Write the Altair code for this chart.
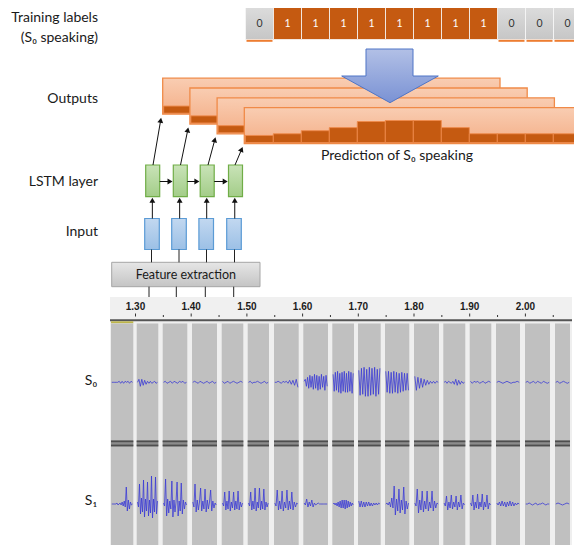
import math
import altair as alt
import pandas as pd

# ---------------- data ----------------
train_labels = [0, 1, 1, 1, 1, 1, 1, 1, 1, 0, 0, 0]
pred_probs = [0.21, 0.26, 0.35, 0.44, 0.62, 0.65, 0.65, 0.44, 0.26, 0.26, 0.26, 0.26]
tick_times = [1.30, 1.40, 1.50, 1.60, 1.70, 1.80, 1.90, 2.00]
tick_labels = ["1.30", "1.40", "1.50", "1.60", "1.70", "1.80", "1.90", "2.00"]
row_labels = ["Outputs", "LSTM layer", "Input"]
channel_labels = ["S\u2080", "S\u2081"]

# waveform samples per window (signed amplitude, px)
s0_wave = [
    [0, 0, 0, 0, 0, 1, -1, 1, -1, 1, 0, 1, -1, 1, 0],
    [0, 3, -4, 3, -3, 2, -2, 1, -1, 1, -1, 0, 1, -1, 0],
    [0, 1, -1, 0, 1, -1, 1, 0, -1, 1, 0, 1, -1, 0],
    [0, 1, 0, -1, 1, 0, -1, 0, 1, -1, 0, 1, -1, 0],
    [1, -1, 0, 1, -1, 0, 1, 0, -1, 0, 1, 0],
    [0, 1, -1, 0, 0, 1, 0, -1, 0, 1, -1, 0],
    [0, 0, 1, 0, -1, 1, 0, 1, -1, 2, -2, 2, -3, 3, -5],
    [1, 3, -4, 5, -6, 7, -5, 6, -7, 8, -6, 7, -8, 6, -7, 8, -5, 6, -8, 7, -4],
    [8, -9, 10, -8, 11, -10, 9, -11, 10, -9, 11, -10, 9, -10, 11, -9, 10, -11, 9],
    [12, -13, 14, -12, 15, -14, 13, -14, 15, -13, 14, -12, 15, -14, 13, -12, 14],
    [11, -10, 11, -11, 10, -11, 11, -10, 10, -11, 9, -10, 10, -9, 9, -8, 9, -8],
    [6, -8, 5, -6, 4, -5, 3, -3, 2, -2, 1, -1, 1, -1, 1, 0],
    [0, 1, -1, 1, 0, -1, 1, -2, 3, -3, 2, -2, 1, -1, 0],
    [1, -1, 1, 0, 1, -1, 0, 1, -1, 0, 1, 0],
    [0, 1, 0, -1, 0, 1, 0, -1, 0, 0, 1, 0],
    [0, 1, -1, 0, 1, -1, 1, 0, -1, 1, 0, -1, 0],
    [0, 1, -1, 0, 1, 0, -1, 0],
]
s1_wave = [
    [0, 0, 0, 0, 0, 1, -1, 0, 1, -1, 2, -2, 3, -3, 17, -7, 4, -5, 2, -1, 0],
    [2, -3, 20, -10, 6, -8, 24, -13, 5, -7, 22, -12, 4, -9, 28, -14, 5, -8, 27, -10, 3],
    [1, -2, 25, -12, 5, -9, 3, -5, 23, -13, 4, -8, 2, 22, -12, 3, -7, 21, -10, 4, -5, 2, -1],
    [2, -3, 20, -8, 4, -6, 2, 16, -7, 3, -5, 15, -8, 4, -5, 2, 14, -7, 3, -4, 1, -1],
    [1, -2, 12, -6, 3, -5, 13, -7, 2, -4, 12, -6, 3, -5, 13, -6, 2, -3, 1],
    [1, -2, 12, -6, 3, -5, 16, -7, 2, -4, 16, -6, 3, -5, 15, -6, 2, -3, 1],
    [1, -2, 14, -6, 3, -5, 13, -7, 2, -4, 14, -6, 3, -5, 12, -6, 2, -3, 1, 0],
    [1, -1, 5, -3, 2, -2, 4, -3, 1, -1, 0, 1, 0, 0, 0, 0, 0, 0, 0],
    [0, 1, -1, 1, -2, 2, -3, 3, -4, 4, -4, 4, -5, 4, -4, 3, -3, 2, -2, 1, -1],
    [3, -3, 3, -3, 2, -3, 2, -2, 2, -2, 1, -2, 1, -1, 1, -1, 1, 0],
    [0, 1, -1, 2, -3, 6, -4, 18, -11, 5, -7, 15, -9, 4, -6, 17, -10, 3, -5, 1],
    [1, -2, 15, -9, 4, -6, 13, -8, 3, -5, 13, -7, 2, -4, 13, -7, 3, -4, 1, 0],
    [1, -2, 8, -6, 2, -4, 9, -5, 2, -3, 8, -6, 2, -3, 9, -5, 1, -1],
    [1, -2, 9, -6, 2, -4, 10, -5, 2, -3, 10, -6, 2, -3, 9, -5, 1, -1],
    [1, -1, 2, -2, 3, -2, 2, -3, 2, -2, 3, -2, 2, -2, 1, -1, 1, 0],
    [0, 0, 1, 0, -1, 0, 1, -1, 0, 0, 1, 0, -1, 0, 0],
    [0, 1, 0, -1, 0, 1, 0],
]

# ---------------- layout (pixel geometry of the diagram) ----------------
FONT = "Lato"
CELL = 28.0
LAB_X0, LAB_Y0, LAB_Y1 = 245.5, 7.0, 39.5
BOX_X0, BOX_Y0, BOX_W, BOX_H = 162.7, 78.2, 337.3, 36.0
BOX_DX, BOX_DY = 27.2, 9.8
BAR_FULL = 34.0
GREEN_CX = [152.7, 180.3, 207.2, 235.5]
BLUE_CX = [152.0, 179.0, 206.2, 234.0]
GREEN_Y = (165.0, 196.7)
BLUE_Y = (218.5, 249.5)
FE = (111.7, 260.0, 262.3, 286.7)
TILES = [(111, 133.3), (136.7, 158.3), (162.7, 187.3), (192, 217), (221.7, 243.3),
         (247.7, 269), (274, 298.7), (303.3, 328), (332.3, 354), (358, 380.7),
         (385, 409.3), (414, 439), (443.3, 465.3), (469.7, 491.3), (496, 520),
         (525, 550), (555, 570)]
T0_X, PX_PER_S = 135.5, 557.0
S0_C, S1_C = 382.3, 504.0
VIEW_W, VIEW_H = 566, 537

XS = alt.Scale(domain=[8, 8 + VIEW_W], nice=False, zero=False)
YS = alt.Scale(domain=[8, 8 + VIEW_H], nice=False, zero=False, reverse=True)


def X(f="x"):
    return alt.X(f, type="quantitative", scale=XS, axis=None)


def Y(f="y"):
    return alt.Y(f, type="quantitative", scale=YS, axis=None)


def vgrad(c0, c1):
    return alt.LinearGradient(gradient="linear", x1=0, y1=0, x2=0, y2=1,
                              stops=[alt.GradientStop(color=c0, offset=0),
                                     alt.GradientStop(color=c1, offset=1)])


def rects(rows, **mark):
    return alt.Chart(pd.DataFrame(rows)).mark_rect(**mark).encode(
        x=X("x"), x2=alt.X2("x2"), y=Y("y"), y2=alt.Y2("y2"))


def rules(rows, **mark):
    return alt.Chart(pd.DataFrame(rows)).mark_rule(**mark).encode(
        x=X("x"), x2=alt.X2("x2"), y=Y("y"), y2=alt.Y2("y2"))


def texts(rows, **mark):
    return alt.Chart(pd.DataFrame(rows)).mark_text(**mark).encode(
        x=X("x"), y=Y("y"), text="t:N")


layers = []

# ---- training labels strip ----
cells = [dict(x=LAB_X0 + CELL * j, x2=LAB_X0 + CELL * (j + 1), y=LAB_Y0, y2=LAB_Y1,
              lab=v, cx=LAB_X0 + CELL * (j + 0.5)) for j, v in enumerate(train_labels)]
zero_cells = [c for c in cells if c["lab"] == 0]
one_cells = [c for c in cells if c["lab"] == 1]
layers.append(rects(zero_cells, fill=vgrad("#DCDCDC", "#C6C6C6"), stroke="#F4F4F4", strokeWidth=1))
layers.append(rects(one_cells, fill="#C55A11", stroke="#F2E6DE", strokeWidth=1))
layers.append(rects([dict(x=c["x"] + 1, x2=c["x2"] - 1, y=LAB_Y1 + 0.3, y2=LAB_Y1 + 2.3)
                     for c in zero_cells], fill="#ED7D31"))
lab_df = pd.DataFrame([dict(x=c["cx"], y=23.5, t=str(c["lab"]), lab=c["lab"]) for c in cells])
layers.append(alt.Chart(lab_df).mark_text(font=FONT, fontSize=10.5).encode(
    x=X("x"), y=Y("y"), text="t:N",
    color=alt.condition("datum.lab == 1", alt.value("#FFFFFF"), alt.value("#333333"))))

# ---- left row titles ----
layers.append(texts([dict(x=98, y=18, t="Training labels"),
                     dict(x=98, y=38, t="(S\u2080 speaking)"),
                     dict(x=98, y=98.5, t=row_labels[0]),
                     dict(x=98, y=182, t=row_labels[1]),
                     dict(x=98, y=232, t=row_labels[2])],
                    font=FONT, fontSize=14, align="right", baseline="middle", color="#1A1A1A"))

# ---- output boxes with prediction bars ----
for k in range(4):
    L = BOX_X0 + BOX_DX * k
    T = BOX_Y0 + BOX_DY * k
    B = T + BOX_H
    layers.append(rects([dict(x=L, x2=L + BOX_W, y=T, y2=B)],
                        fill=vgrad("#F9CDB2", "#F4AF88"), stroke="#F08A48", strokeWidth=1.3))
    bars = [dict(x=L + 1 + CELL * j, x2=L + 1 + CELL * (j + 1), y=B - 1 - p * BAR_FULL, y2=B - 1)
            for j, p in enumerate(pred_probs)]
    layers.append(rects(bars, fill="#C55A11", stroke="#EE8A4C", strokeWidth=0.9))

layers.append(texts([dict(x=397, y=155.5, t="Prediction of S\u2080 speaking")],
                    font=FONT, fontSize=14, align="center", baseline="middle", color="#1A1A1A"))

# ---- big blue arrow ----
arrow_pts = [(341.7, 76, 76), (365.99, 76, 89.4), (366, 49, 89.4), (390, 49, 102.7),
             (413, 49, 89.9), (413.01, 76, 89.9), (438.3, 76, 76)]
arrow_df = pd.DataFrame([dict(x=a, y=b, y2=c) for a, b, c in arrow_pts])
layers.append(alt.Chart(arrow_df).mark_area(
    fill=vgrad("#B2C0E6", "#7A92D4"), stroke="#4F75C6", strokeWidth=1, orient="vertical",
    interpolate="linear").encode(x=X("x"), y=Y("y"), y2=alt.Y2("y2")))

# ---- LSTM (green) and input (blue) cells ----
layers.append(rects([dict(x=c - 7, x2=c + 7, y=GREEN_Y[0], y2=GREEN_Y[1]) for c in GREEN_CX],
                    fill=vgrad("#C9E3B8", "#A3CD88"), stroke="#70AD47", strokeWidth=1.2))
layers.append(rects([dict(x=c - 7.3, x2=c + 7.3, y=BLUE_Y[0], y2=BLUE_Y[1]) for c in BLUE_CX],
                    fill=vgrad("#C2D8F0", "#9CC0E6"), stroke="#5B9BD5", strokeWidth=1.2))

# ---- feature extraction ----
layers.append(rects([dict(x=FE[0], x2=FE[1], y=FE[2], y2=FE[3])],
                    fill=vgrad("#E6E6E6", "#C4C4C4"), stroke="#A6A6A6", strokeWidth=1))
layers.append(texts([dict(x=(FE[0] + FE[1]) / 2, y=(FE[2] + FE[3]) / 2 + 0.5, t="Feature extraction")],
                    font=FONT, fontSize=12.5, align="center", baseline="middle", color="#1A1A1A"))

# ---- arrows ----
arrows = []  # (x0, y0, x1, y1) with arrowhead at (x1, y1)
for i in range(4):
    xa = (GREEN_CX[i] + BLUE_CX[i]) / 2
    arrows.append((xa, BLUE_Y[0], xa, GREEN_Y[1] + 0.5))
for i in range(3):
    arrows.append((GREEN_CX[i] + 7, 181.5, GREEN_CX[i + 1] - 7.3, 181.5))
out_starts = [153, 180.5, 208, 235]
for k in range(4):
    L = BOX_X0 + BOX_DX * k
    B = BOX_Y0 + BOX_DY * k + BOX_H
    arrows.append((out_starts[k], GREEN_Y[0], L - 1.5, B + 3))
line_rows, head_rows = [], []
for x0, y0, x1, y1 in arrows:
    dx, dy = x1 - x0, y1 - y0
    n = math.hypot(dx, dy)
    ux, uy = dx / n, dy / n
    line_rows.append(dict(x=x0, y=y0, x2=x1 - ux * 3, y2=y1 - uy * 3))
    head_rows.append(dict(x=x1 - ux * 3, y=y1 - uy * 3, ang=math.degrees(math.atan2(dx, -dy)) % 360))
layers.append(rules(line_rows, color="#111111", strokeWidth=1))
layers.append(alt.Chart(pd.DataFrame(head_rows)).mark_point(
    shape="triangle-up", filled=True, color="#111111", size=34, opacity=1).encode(
    x=X("x"), y=Y("y"), angle=alt.Angle("ang", type="quantitative", scale=None)))

# plain connector lines
conn = [dict(x=c, x2=c, y=BLUE_Y[1], y2=FE[2]) for c in [151.5, 179, 206.5, 234.5]]
conn += [dict(x=c, x2=c, y=FE[3], y2=323.5) for c in [149, 176.3, 205.3, 233.7]]
layers.append(rules(conn, color="#222222", strokeWidth=1))

# ---- audio editor panel ----
layers.append(rects([dict(x=110, x2=572, y=297, y2=320)], fill="#F0F0F0"))
layers.append(rects([dict(x=110, x2=572, y=320, y2=553)], fill="#EFEFEF"))
tick_rows = [dict(x=T0_X + (t - tick_times[0]) * PX_PER_S, t=lab, y=306.5)
             for t, lab in zip(tick_times, tick_labels)]
layers.append(texts(tick_rows, font="Liberation Sans", fontSize=10, fontWeight="bold",
                    align="center", baseline="middle", color="#1C1C1C"))
minor = []
for t in tick_times:
    xm = T0_X + (t - tick_times[0]) * PX_PER_S
    minor.append(dict(x=xm, x2=xm, y=313.5, y2=316.5))
    minor.append(dict(x=xm + 0.05 * PX_PER_S, x2=xm + 0.05 * PX_PER_S, y=315, y2=317))
layers.append(rules(minor, color="#333333", strokeWidth=1))
layers.append(rects([dict(x=110, x2=572, y=319.3, y2=321.3)], fill="#555555"))
layers.append(rects([dict(x=111, x2=133.3, y=321.3, y2=323.3)], fill="#BDB54A"))

tiles = [dict(x=a, x2=b, y=323.5, y2=553) for a, b in TILES]
layers.append(rects(tiles, fill="#C0C0C0"))
layers.append(rects([dict(x=a, x2=b, y=440.5, y2=446.5) for a, b in TILES], fill="#8C8C8C"))
layers.append(rects([dict(x=a, x2=b, y=440.5, y2=442.2) for a, b in TILES], fill="#4E4E4E"))
layers.append(rects([dict(x=a, x2=b, y=444.6, y2=446.3) for a, b in TILES], fill="#4E4E4E"))

wave_rows = []
for ch, (waves, cy) in enumerate([(s0_wave, S0_C), (s1_wave, S1_C)]):
    for k, vals in enumerate(waves):
        a, b = TILES[k]
        n = len(vals)
        for i, v in enumerate(vals):
            wave_rows.append(dict(seg=f"{ch}-{k}", i=i,
                                  x=a + 0.8 + i * (b - a - 1.6) / (n - 1), y=cy - v))
layers.append(alt.Chart(pd.DataFrame(wave_rows)).mark_line(
    color="#3A3AD6", strokeWidth=0.8).encode(
    x=X("x"), y=Y("y"), detail="seg:N", order="i:Q"))

layers.append(texts([dict(x=91, y=381, t=channel_labels[0]), dict(x=91, y=501, t=channel_labels[1])],
                    font=FONT, fontSize=14, align="center", baseline="middle", color="#1A1A1A"))

chart = alt.layer(*layers).properties(
    width=VIEW_W, height=VIEW_H, padding=0, autosize="none", background="white"
).configure_view(stroke=None)

chart.save("out.html", embed_options={"renderer": "svg", "actions": False})
